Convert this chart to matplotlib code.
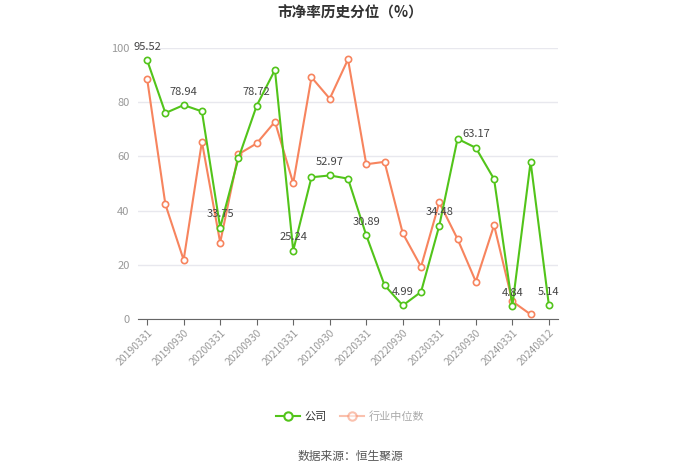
import matplotlib
matplotlib.use("Agg")
import matplotlib.pyplot as plt
from matplotlib.lines import Line2D

plt.rcParams['font.family'] = ['Noto Sans CJK SC', 'DejaVu Sans']

dates = ["20190331", "20190630", "20190930", "20191231", "20200331", "20200630",
         "20200930", "20201231", "20210331", "20210630", "20210930", "20211231",
         "20220331", "20220630", "20220930", "20221231", "20230331", "20230630",
         "20230930", "20231231", "20240331", "20240630", "20240812"]
company = [95.52, 76.0, 78.94, 76.6, 33.75, 59.3, 78.72, 91.9, 25.24, 52.3, 52.97,
           51.8, 30.89, 12.5, 4.99, 10.0, 34.48, 66.5, 63.17, 51.6, 4.84, 58.0, 5.14]
industry = [88.6, 42.3, 21.8, 65.4, 28.2, 60.8, 64.8, 72.8, 50.1, 89.2, 81.3,
            95.8, 57.1, 58.0, 31.6, 19.3, 43.0, 29.5, 13.8, 34.6, 6.5, 1.7]
yticks = [0, 20, 40, 60, 80, 100]

green = '#52c41a'
orange = '#f7845e'

fig = plt.figure(figsize=(7.0, 4.73), dpi=100)
ax = fig.add_axes([138/700, 1-319/473, 420/700, 271/473])

xs = list(range(len(dates)))
ax.plot(xs[:len(industry)], industry, color=orange, lw=1.5, marker='o', ms=4.5,
        mfc='white', mec=orange, mew=1.2, zorder=3)
ax.plot(xs, company, color=green, lw=1.5, marker='o', ms=4.5,
        mfc='white', mec=green, mew=1.2, zorder=4)

for i in range(0, len(company), 2):
    ax.annotate(f"{company[i]:.2f}", (xs[i], company[i]), xytext=(0, 6),
                textcoords='offset points', ha='center', va='bottom',
                fontsize=8, color='#444444', zorder=5)

ax.set_xlim(-0.5, len(dates) - 0.5)
ax.set_ylim(0, 100)
ax.set_yticks(yticks)
ax.set_yticklabels([str(v) for v in yticks], fontsize=8, color='#999999')
ax.set_xticks(xs[::2])
ax.set_xticklabels(dates[::2], rotation=45, ha='right', rotation_mode='anchor',
                   fontsize=7.5, color='#999999')
ax.tick_params(axis='y', length=0, pad=6)
ax.tick_params(axis='x', length=4, color='#666666', pad=2)
ax.grid(axis='y', color='#e8e8ee', lw=1)
ax.set_axisbelow(True)
for s in ['top', 'right', 'left']:
    ax.spines[s].set_visible(False)
ax.spines['bottom'].set_color('#666666')

fig.text(0.5, 1-13/473, "市净率历史分位（%）", ha='center', va='center',
         fontsize=10.5, fontweight='bold', color='#333333')

handles = [Line2D([], [], color=green, lw=1.5, marker='o', ms=6, mfc='white', mec=green, mew=1.5),
           Line2D([], [], color=orange, lw=1.5, marker='o', ms=6, mfc='white', mec=orange, mew=1.5, alpha=0.5)]
leg = fig.legend(handles, ["公司", "行业中位数"], loc='center', bbox_to_anchor=(0.5, 1-417/473),
                 ncol=2, frameon=False, fontsize=8, handlelength=2.2, columnspacing=1.2,
                 handletextpad=0.4)
leg.get_texts()[0].set_color('#333333')
leg.get_texts()[1].set_color('#aaaaaa')

fig.text(0.5, 1-456/473, "数据来源：恒生聚源", ha='center', va='center',
         fontsize=8.5, color='#555555')

fig.savefig("out.png", dpi=100)
